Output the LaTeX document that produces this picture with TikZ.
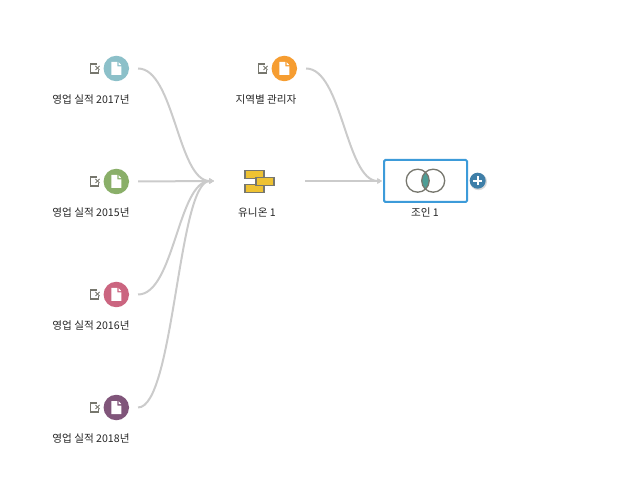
\documentclass[tikz,border=0pt]{standalone}
\usepackage{fontspec}
\setmainfont{Noto Sans CJK KR}
\usetikzlibrary{arrows.meta}
\definecolor{teal17}{HTML}{8CC0C9}
\definecolor{green15}{HTML}{8AAF69}
\definecolor{red16}{HTML}{CB6580}
\definecolor{purple18}{HTML}{80557A}
\definecolor{orangeR}{HTML}{F69D31}
\definecolor{linkgray}{HTML}{CBCBCB}
\definecolor{iconyellow}{HTML}{EEC232}
\definecolor{icongray}{HTML}{77776E}
\definecolor{joinblue}{HTML}{3D9BD9}
\definecolor{lensteal}{HTML}{4E9E96}
\definecolor{plusblue}{HTML}{3F7FA8}
\tikzset{
  src/.style={circle, minimum size=25.5*0.75pt, inner sep=0pt, outer sep=9*0.75pt},
  lbl/.style={inner sep=0pt, font=\fontsize{7.95}{9}\selectfont, text=black!85},
  link/.style={draw=linkgray, line width=2*0.75pt, -{Triangle[length=3.5pt,width=4pt]}},
  docicon/.pic={
    \fill[white] (-5,-6.5) -- (1,-6.5) -- (1,-2) -- (5,-2) -- (5,6.5) -- (-5,6.5) -- cycle;
    \fill[white] (2.2,-6.5) -- (5,-3.4) -- (2.2,-3.4) -- cycle;
  },
  editicon/.pic={
    \draw[icongray, line width=0.85pt] (2,-4.5) -- (-4.5,-4.5) -- (-4.5,4.5) -- (3.5,4.5) -- (3.5,1.5);
    \draw[icongray, line width=0.7pt] (0.5,-2.5) -- (4.5,1.5);
    \draw[icongray, line width=0.7pt] (0.5,1.5) -- (4.5,-2.5);
  },
  unionbar/.style={draw=icongray, fill=iconyellow, line width=1.4*0.75pt, inner sep=0pt, minimum height=7.5*0.75pt}
}
\begin{document}
\begin{tikzpicture}[x=0.75pt, y=-0.75pt]
    \useasboundingbox (0,0) rectangle (631,498);

    % Sources
    \node[src, fill=teal17] (s2017) at (116.3,68.5) {};
    \node[src, fill=green15] (s2015) at (116.3,181.5) {};
    \node[src, fill=red16] (s2016) at (116.3,294.5) {};
    \node[src, fill=purple18] (s2018) at (116.3,407.5) {};
    \node[src, fill=orangeR] (sarea) at (284.3,68.5) {};

    % Icons
    \pic at (s2017) {docicon};
    \pic at (s2015) {docicon};
    \pic at (s2016) {docicon};
    \pic at (s2018) {docicon};
    \pic at (sarea) {docicon};
    \pic at (95,68.5) {editicon};
    \pic at (95,181.5) {editicon};
    \pic at (95,294.5) {editicon};
    \pic at (95,407.5) {editicon};
    \pic at (263,68.5) {editicon};

    % Labels
    \node[lbl] (l2017) at (91,99.5) {영업 실적 2017년};
    \node[lbl] (l2015) at (91,212.5) {영업 실적 2015년};
    \node[lbl] (l2016) at (91,325.5) {영업 실적 2016년};
    \node[lbl] (l2018) at (91,438.5) {영업 실적 2018년};
    \node[lbl] (larea) at (266,99.5) {지역별 관리자};
    \node[lbl] (lunion) at (257,212.5) {유니온 1};
    \node[lbl] (ljoin) at (425,212.5) {조인 1};

    % Union
    \node[unionbar, minimum width=19*0.75pt] (utop) at (254.5,174.5) {};
    \node[unionbar, minimum width=19*0.75pt] (ubot) at (254.5,188.5) {};
    \node[unionbar, minimum width=18*0.75pt] (umid) at (265,181.5) {};
    \coordinate (uin) at (214,181);
    \coordinate (uout) at (305,181);

    % Join
    \node[draw=joinblue, fill=white, line width=2*0.75pt, rounded corners=1pt, minimum width=83*0.75pt, minimum height=42*0.75pt, inner sep=0pt, outer sep=2*0.75pt] (join) at (425.5,181) {};
    \begin{scope}
      \clip (417.7,180.7) circle (11.5);
      \fill[lensteal] (433.2,180.7) circle (11.5);
    \end{scope}
    \draw[icongray, line width=1.3*0.75pt] (417.7,180.7) circle (11.5);
    \draw[icongray, line width=1.3*0.75pt] (433.2,180.7) circle (11.5);

    % Plus
    \fill[black!15] (478.5,181.7) circle (8.5);
    \node[circle, fill=plusblue, minimum size=16*0.75pt, inner sep=0pt] (plus) at (477.7,180.7) {};
    \draw[white, line width=1.7*0.75pt] ([xshift=-4.5*0.75pt]plus.center) -- ([xshift=4.5*0.75pt]plus.center);
    \draw[white, line width=1.7*0.75pt] ([yshift=-4.5*0.75pt]plus.center) -- ([yshift=4.5*0.75pt]plus.center);

    % Links
    \draw[link] (s2017.east) .. controls +(36,0) and +(-36,0) .. (uin);
    \draw[link] (s2015.east) -- (uin);
    \draw[link] (s2016.east) .. controls +(36,0) and +(-36,0) .. (uin);
    \draw[link] (s2018.east) .. controls +(36,0) and +(-36,0) .. (uin);
    \draw[link] (sarea.east) .. controls +(36,0) and +(-36,0) .. (join.west);
    \draw[link] (uout) -- (join.west);
\end{tikzpicture}
\end{document}
